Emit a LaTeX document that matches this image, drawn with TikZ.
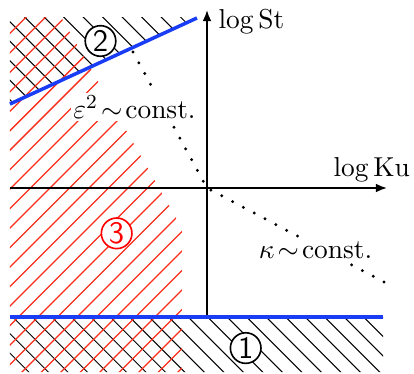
\documentclass[tikz,border=0pt]{standalone}
\usepackage{amsmath}
\usepackage{amssymb}
\usepackage{xcolor}
\usetikzlibrary{arrows.meta, positioning, calc}

\definecolor{hatchred}{RGB}{250,45,25}
\definecolor{bndblue}{RGB}{25,60,245}

\begin{document}
\begin{tikzpicture}[
  font=\fontsize{10.9}{13}\selectfont,
  % ---- Axis, boundary and hatch styles ----
  axis/.style  ={-{Latex[length=4.5pt, width=3.6pt]}, line width=0.8pt},
  bound/.style ={bndblue, line width=1.4pt},
  hatchK/.style={black, line width=0.4pt},
  hatchR/.style={hatchred, line width=0.5pt},
  scaling/.style={line width=1.3pt, line cap=round, dash pattern=on 0pt off 4.9pt},
  lbl/.style   ={fill=white, inner sep=1pt},
  regn/.style  ={circle, draw, fill=white, line width=0.65pt,
    minimum size=0.43cm, inner sep=0pt, font=\sffamily\fontsize{12.5}{14}\selectfont},
]
\useasboundingbox (-2.91,-2.601) rectangle (2.91,2.643);

% ---- Reference points ----
\coordinate (O)    at (0,0);
\coordinate (xL)   at (-2.77,0);
\coordinate (xR)   at (2.531,0);
\coordinate (yB)   at (0,-1.814);
\coordinate (yT)   at (0,2.503);
\coordinate (lowL) at (-2.77,-1.814);
\coordinate (lowR) at (2.475,-1.814);
\coordinate (upL)  at (-2.77,1.181);
\coordinate (upR)  at (-0.141,2.390);
\coordinate (epsE) at (-1.04,1.912);
\coordinate (kapE) at (2.489,-1.322);

% ---- Black hatching (regions 1 and 2) ----
\begin{scope}
  \clip (-2.77,2.404) -- (-0.16,2.404) -- (upL) -- cycle
        (lowL) rectangle (2.475,-2.59);
  \foreach \i in {-5,...,36}
    \draw[hatchK] (-3,{\i*0.274-1.27}) -- (3,{\i*0.274-7.27});
\end{scope}

% ---- Red hatching (region 3) ----
\begin{scope}
  \clip (-2.77,2.404) -- (-2.05,2.404) -- (-0.352,-0.560)
        -- (-0.352,-2.59) -- (-2.77,-2.59) -- cycle;
  \foreach \i in {-23,...,19}
    \draw[hatchR] (-3,{\i*0.274-2.438}) -- (3,{\i*0.274+3.562});
\end{scope}

% ---- Scaling lines ----
\draw[scaling] (epsE) -- (O);
\draw[scaling] (kapE) -- (O);

% ---- Axes ----
\draw[axis] (xL) -- (xR);
\draw[axis] (yB) -- (yT);

% ---- Boundaries ----
\draw[bound] (lowL) -- (lowR);
\draw[bound] (upL) -- (upR);

% ---- Labels ----
\node[anchor=base west, inner sep=0pt] (St) at (0.155,2.236) {$\log\mathrm{St}$};
\node[anchor=base west, inner sep=0pt] (Ku) at (1.772,0.155) {$\log\mathrm{Ku}$};
\node[lbl, anchor=base] (eps) at (-1.019,0.984) {$\varepsilon^2\!\sim\!\mathrm{const.}$};
\node[lbl, anchor=base] (kap) at (1.526,-0.984) {$\kappa\!\sim\!\mathrm{const.}$};

% ---- Region markers ----
\node[regn] (r2) at (-1.497,2.067) {2};
\node[regn] (r1) at (0.544,-2.250) {1};
\node[regn, draw=red, text=red] (r3) at (-1.270,-0.637) {3};
\end{tikzpicture}
\end{document}
